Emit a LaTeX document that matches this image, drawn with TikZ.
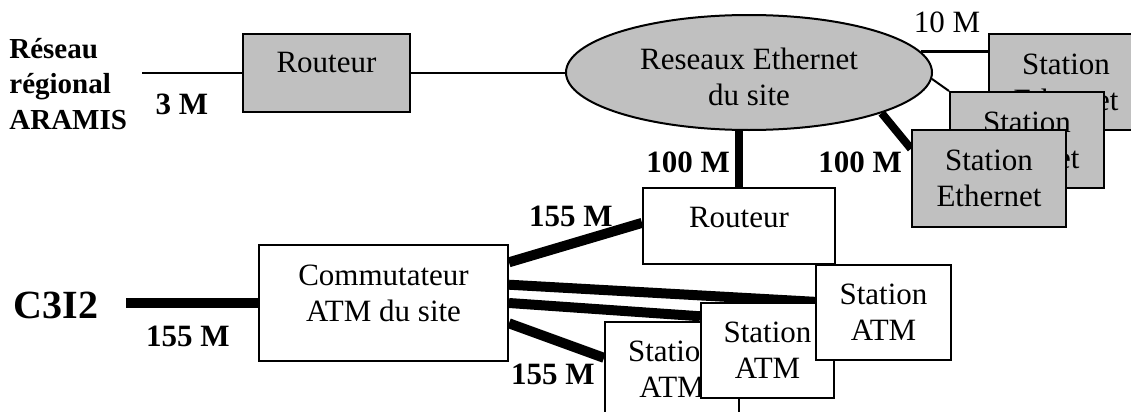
\documentclass[tikz,border=0pt]{standalone}
\usepackage{fontspec}
\setmainfont{Liberation Serif}
\usetikzlibrary{shapes.geometric,calc,backgrounds}
\definecolor{boxgray}{HTML}{C0C0C0}
\tikzset{
    netbox/.style = {draw, line width = 1pt, fill = white, inner sep = 0pt, align = center,
        font = \fontsize{15.5}{18}\selectfont},
    graybox/.style = {netbox, fill = boxgray},
    boxtext/.style = {inner sep = 0pt, align = center, font = \fontsize{15.5}{18}\selectfont},
    rate/.style = {inner sep = 0pt, font = \fontsize{15.5}{18}\selectfont\bfseries},
    thinlink/.style = {line width = 1pt},
    link10/.style = {line width = 1.6pt},
    link100/.style = {line width = 4pt},
    link155/.style = {line width = 5pt}
}
\begin{document}
\begin{tikzpicture}[x = 0.5pt, y = -0.5pt]
    \useasboundingbox (0,0) rectangle (1131,412);
    \clip (0,0) rectangle (1131,412);
    % upper part: regional network and ethernet
    \node[anchor = west, inner sep = 0pt, align = left, font = \fontsize{14.5}{17.75}\selectfont\bfseries] (aramis) at (9,84) {R\'eseau\\r\'egional\\ARAMIS};
    \coordinate (aramis-end) at (142,72.5);
    \node[graybox, minimum width = 83.5pt, minimum height = 39pt] (rtr1) at (326.5,72.5) {};
    \node[boxtext] (rtr1-txt) at ([yshift = 5pt]rtr1.center) {Routeur};
    \node[ellipse, draw, line width = 1pt, fill = boxgray, inner sep = 0pt,
          minimum width = 183pt, minimum height = 57.5pt] (eth) at (749,72.5) {};
    \node[boxtext] (eth-txt) at ([yshift = -2.25pt]eth.center) {Reseaux Ethernet\\du site};
    \node[graybox, minimum width = 77pt, minimum height = 48pt] (st1) at (1066,82) {Station\\Ethernet};
    \node[graybox, minimum width = 77pt, minimum height = 48pt] (st2) at (1027,140) {Station\\Ethernet};
    \node[graybox, minimum width = 77pt, minimum height = 48.5pt] (st3) at (989,178.5) {Station\\Ethernet};
    \node[rate] (r3) at (182,104) {3 M};
    \node[inner sep = 0pt, font = \fontsize{15.5}{18}\selectfont] (r10) at (947,22) {10 M};
    \node[rate] (r100a) at (688,162) {100 M};
    \node[rate] (r100b) at (860,162) {100 M};
    % lower part: ATM
    \node[netbox, minimum width = 96pt, minimum height = 38pt] (rtr2) at (739,226) {};
    \node[boxtext] (rtr2-txt) at ([yshift = 4pt]rtr2.center) {Routeur};
    \node[inner sep = 0pt, font = \fontsize{20}{24}\selectfont\bfseries] (c3i2) at (56,305) {C3I2};
    \coordinate (c3i2-end) at (126,303);
    \node[netbox, minimum width = 124.5pt, minimum height = 58pt] (comm) at (383.5,303) {};
    \node[boxtext] (comm-txt) at ([yshift = 5pt]comm.center) {Commutateur\\ATM du site};
    \node[netbox, minimum width = 67pt, minimum height = 47.5pt] (atm1) at (672,369.5) {Station\\ATM};
    \node[netbox, minimum width = 66.5pt, minimum height = 47.5pt] (atm2) at (767.5,350.5) {Station\\ATM};
    \node[netbox, minimum width = 67.5pt, minimum height = 47.5pt] (atm3) at (883.5,312.5) {Station\\ATM};
    \node[rate] (r155a) at (571,216) {155 M};
    \node[rate] (r155b) at (188,336) {155 M};
    \node[rate] (r155c) at (553,374) {155 M};
    \begin{scope}[on background layer]
        \draw[thinlink] (aramis-end) -- (rtr1.west);
        \draw[thinlink] (rtr1.east) -- (eth.west);
        \draw[link10] (eth.7) -- (eth.7 -| st1.west);
        \draw[thinlink] (eth.-2) -- (st2.north west);
        \draw[link100] (eth.-17.4) -- ($(st3.north west)!0.2!(st3.south west)$);
        \draw[link100] (rtr2.north) -- (rtr2.north |- eth.south);
        \draw[link155] (c3i2-end) -- (comm.west);
        \draw[link155] ($(comm.north east)!0.155!(comm.south east)$) -- ($(rtr2.north west)!0.46!(rtr2.south west)$);
        \draw[link155] ($(comm.north east)!0.345!(comm.south east)$) -- ($(atm3.north west)!0.39!(atm3.south west)$);
        \draw[link155] ($(comm.north east)!0.5!(comm.south east)$) -- ($(atm2.north west)!0.147!(atm2.south west)$);
        \draw[link155] ($(comm.north east)!0.672!(comm.south east)$) -- ($(atm1.north west)!0.38!(atm1.south west)$);
    \end{scope}
\end{tikzpicture}
\end{document}
